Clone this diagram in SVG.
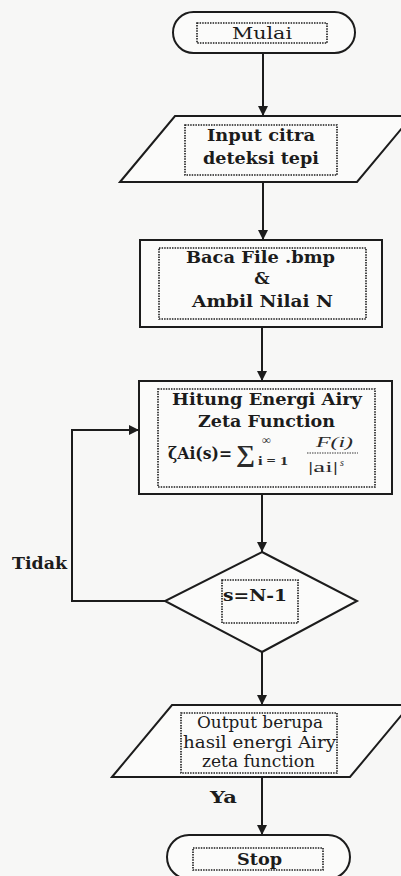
<svg xmlns="http://www.w3.org/2000/svg" width="401" height="876" viewBox="0 0 401 876">
<defs>
<style>
.bg{fill:#f7f7f6}
.sh{fill:#fbfbfa;stroke:#1c1c1c;stroke-width:2}
.dot{fill:none;stroke:#1c1c1c;stroke-width:1.6;stroke-dasharray:1.5 1.1}
.ln{fill:none;stroke:#1c1c1c;stroke-width:2}
.t{font-family:"DejaVu Serif","Liberation Serif",serif;font-size:17px;fill:#1c1c1c}
.b{font-weight:bold}
.m{font-family:"Liberation Serif","DejaVu Serif",serif;fill:#2a2a2a}
</style>
<marker id="ah" viewBox="0 0 10 10" refX="10" refY="5" markerWidth="5" markerHeight="5" orient="auto" markerUnits="strokeWidth">
<path d="M0,0 L10,5 L0,10 z" fill="#1c1c1c"/>
</marker>
</defs>
<rect class="bg" x="0" y="0" width="401" height="876"/>

<g id="connectors">
<path class="ln" d="M263,53 L263,116" marker-end="url(#ah)"/>
<path class="ln" d="M263,182 L263,240" marker-end="url(#ah)"/>
<path class="ln" d="M262,327 L262,381" marker-end="url(#ah)"/>
<path class="ln" d="M262,494 L262,552" marker-end="url(#ah)"/>
<path class="ln" d="M262,652 L262,705" marker-end="url(#ah)"/>
<path class="ln" d="M262,777 L262,835" marker-end="url(#ah)"/>
<path class="ln" d="M165,601 L72,601 L72,430 L139,430" marker-end="url(#ah)"/>
<text class="t b" x="12" y="569" textLength="55" lengthAdjust="spacingAndGlyphs">Tidak</text>
<text class="t b" x="210" y="803" textLength="27" lengthAdjust="spacingAndGlyphs">Ya</text>
</g>

<g id="mulai">
<rect class="sh" x="173" y="12" width="182" height="41" rx="20.5"/>
<rect class="dot" x="197" y="23" width="130" height="20"/>
<text class="t" x="232" y="39" textLength="60" lengthAdjust="spacingAndGlyphs">Mulai</text>
</g>

<g id="input">
<polygon class="sh" points="120,182 175,116 412,116 357,182"/>
<rect class="dot" x="185" y="125" width="152" height="50"/>
<text class="t b" x="207" y="141" textLength="108" lengthAdjust="spacingAndGlyphs">Input citra</text>
<text class="t b" x="203" y="164" textLength="116" lengthAdjust="spacingAndGlyphs">deteksi tepi</text>
</g>

<g id="baca">
<rect class="sh" x="140" y="240" width="242" height="87"/>
<rect class="dot" x="159" y="248" width="207" height="71"/>
<text class="t b" x="186" y="263" textLength="149" lengthAdjust="spacingAndGlyphs">Baca File .bmp</text>
<text class="t b" x="262" y="284" text-anchor="middle">&amp;</text>
<text class="t b" x="192" y="307" textLength="141" lengthAdjust="spacingAndGlyphs">Ambil Nilai N</text>
</g>

<g id="hitung">
<rect class="sh" x="139" y="381" width="253" height="113"/>
<rect class="dot" x="158" y="389" width="217" height="98"/>
<text class="t b" x="168" y="459" textLength="64" lengthAdjust="spacingAndGlyphs">ζAi(s)=</text>
<text class="t b" x="172" y="405" textLength="190" lengthAdjust="spacingAndGlyphs">Hitung Energi Airy</text>
<text class="t b" x="198" y="427" textLength="137" lengthAdjust="spacingAndGlyphs">Zeta Function</text>
<text class="m" x="236" y="462" font-size="24" font-weight="bold" textLength="19" lengthAdjust="spacingAndGlyphs">∑</text>
<text class="m" x="262" y="444" font-size="12" font-style="italic">∞</text>
<text class="m" x="258" y="465" font-size="12" font-weight="bold" textLength="30" lengthAdjust="spacingAndGlyphs">i = 1</text>
<text class="m" x="316" y="447" font-size="14" font-style="italic" textLength="37" lengthAdjust="spacingAndGlyphs">F(i)</text>
<line x1="307" y1="453" x2="358" y2="453" stroke="#3a3a3a" stroke-width="1.2" stroke-dasharray="1.5 1"/>
<text class="m" x="308" y="472" font-size="14" textLength="30" lengthAdjust="spacingAndGlyphs">|ai|</text>
<text class="m" x="340" y="466" font-size="10" font-style="italic">s</text>
</g>

<g id="decision">
<polygon class="sh" points="262,552 357,601 262,652 165,601"/>
<rect class="dot" x="222" y="580" width="76" height="43"/>
<text class="t b" x="223" y="601" textLength="64" lengthAdjust="spacingAndGlyphs">s=N-1</text>
</g>

<g id="output">
<polygon class="sh" points="112,777 172,705 410,705 350,777"/>
<rect class="dot" x="181" y="713" width="156" height="60"/>
<text class="t" x="197" y="728" textLength="126" lengthAdjust="spacingAndGlyphs">Output berupa</text>
<text class="t" x="183" y="748" textLength="153" lengthAdjust="spacingAndGlyphs">hasil energi Airy</text>
<text class="t" x="202" y="767" textLength="113" lengthAdjust="spacingAndGlyphs">zeta function</text>
</g>

<g id="stop">
<rect class="sh" x="167" y="835" width="183" height="44" rx="22"/>
<rect class="dot" x="193" y="848" width="130" height="22"/>
<text class="t b" x="237" y="865" textLength="45" lengthAdjust="spacingAndGlyphs">Stop</text>
</g>
</svg>
